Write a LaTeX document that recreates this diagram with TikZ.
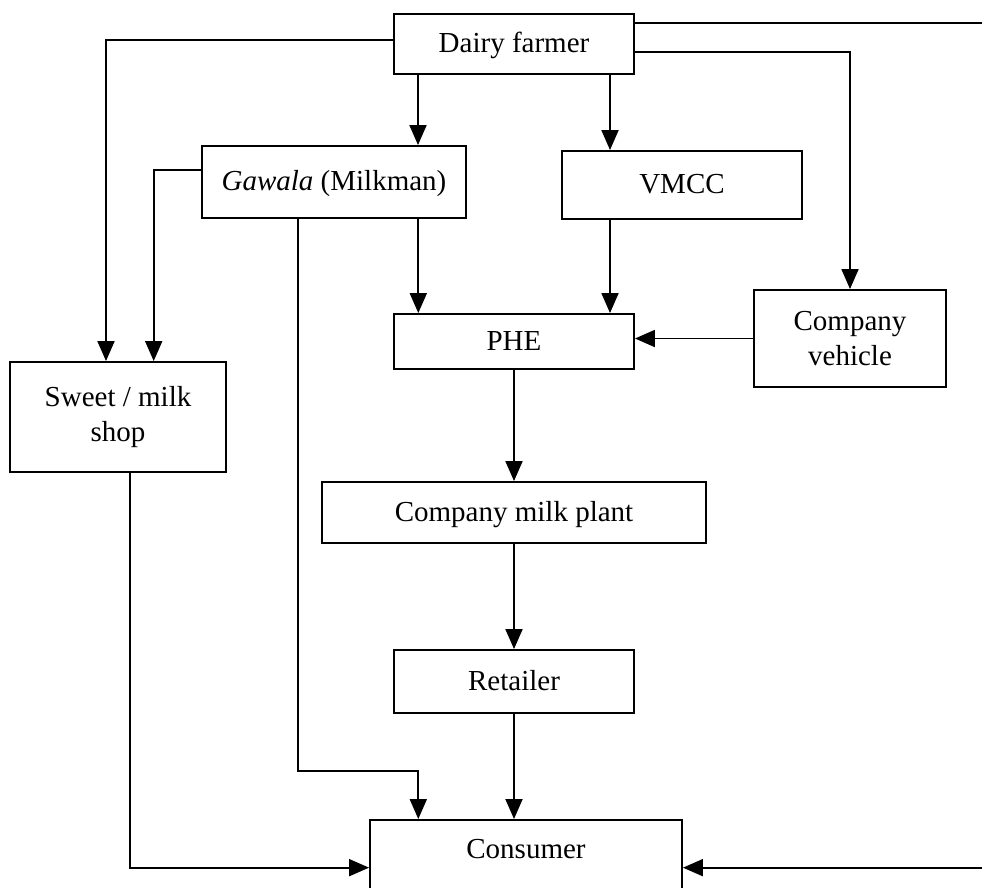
\documentclass[tikz,border=0pt]{standalone}
\usepackage{fontspec}
\setmainfont{Liberation Serif}
\usetikzlibrary{arrows.meta}
\tikzset{
  box/.style={draw, line width=1.9pt, inner sep=0pt, align=center,
              font=\fontsize{29}{34.5}\selectfont},
  oneline/.style={text height=24pt, text depth=7pt},
  flow/.style={line width=1.9pt, -{Triangle[length=20pt,width=17pt]}},
}
\begin{document}
\begin{tikzpicture}[x=1pt,y=1pt]
\useasboundingbox (0,0) rectangle (982,-887);

% boxes
\node[box, oneline, minimum width=240pt, minimum height=60pt] (farmer) at (514,-44) {Dairy farmer};
\node[box, oneline, minimum width=264pt, minimum height=72pt] (gawala) at (334,-182) {\textit{Gawala} (Milkman)};
\node[box, oneline, minimum width=240pt, minimum height=68pt] (vmcc) at (682,-185) {VMCC};
\node[box, oneline, minimum width=240pt, minimum height=55pt] (phe) at (514,-341.5) {PHE};
\node[box, minimum width=192pt, minimum height=97pt] (vehicle) at (850,-338.5) {Company\\vehicle};
\node[box, minimum width=216pt, minimum height=110pt] (shop) at (118,-417) {Sweet / milk\\shop};
\node[box, oneline, minimum width=384pt, minimum height=61pt] (plant) at (514,-512.5) {Company milk plant};
\node[box, oneline, minimum width=240pt, minimum height=63pt] (retailer) at (514,-681.5) {Retailer};
\node[box, minimum width=312pt, minimum height=95.4pt, anchor=north,
      text height=10pt, text depth=28.4pt] (consumer) at (526,-819) {Consumer};

% attachment points
\coordinate (fL) at ([yshift=4pt]farmer.west);
\coordinate (fR1) at ([yshift=21.3pt]farmer.east);
\coordinate (fR2) at ([yshift=-8.3pt]farmer.east);
\coordinate (fB1) at ([xshift=-96pt]farmer.south);
\coordinate (fB2) at ([xshift=96pt]farmer.south);
\coordinate (gL) at ([yshift=12pt]gawala.west);
\coordinate (gB1) at ([xshift=84.3pt]gawala.south);
\coordinate (gB2) at ([xshift=-36.3pt]gawala.south);
\coordinate (vB) at ([xshift=-72pt]vmcc.south);
\coordinate (sT1) at ([xshift=-12pt]shop.north);
\coordinate (sT2) at ([xshift=35.7pt]shop.north);
\coordinate (sB) at ([xshift=12pt]shop.south);
\coordinate (cT1) at (418.3,-819);
\coordinate (gTurn) at (gB2 |- 0,-770.7);
\coordinate (farEast) at (1010,0);

% connectors
\draw[flow] (fL) -| (sT1);
\draw[flow] (fB1) -- (fB1 |- gawala.north);
\draw[flow] (fB2) -- (fB2 |- vmcc.north);
\draw[flow] (fR2) -| (vehicle.north);
\draw[flow] (fR1) -- (fR1 -| farEast) |- (consumer.east);
\draw[flow] (gL) -| (sT2);
\draw[flow] (gB1) -- (gB1 |- phe.north);
\draw[flow] (gB2) -- (gTurn) -| (cT1);
\draw[flow] (vB) -- (vB |- phe.north);
\draw[flow] (vehicle.west) -- (vehicle.west -| phe.east);
\draw[flow] (phe.south) -- (plant.north);
\draw[flow] (plant.south) -- (retailer.north);
\draw[flow] (retailer.south) -- (retailer.south |- consumer.north);
\draw[flow] (sB) |- (consumer.west);
\end{tikzpicture}
\end{document}
